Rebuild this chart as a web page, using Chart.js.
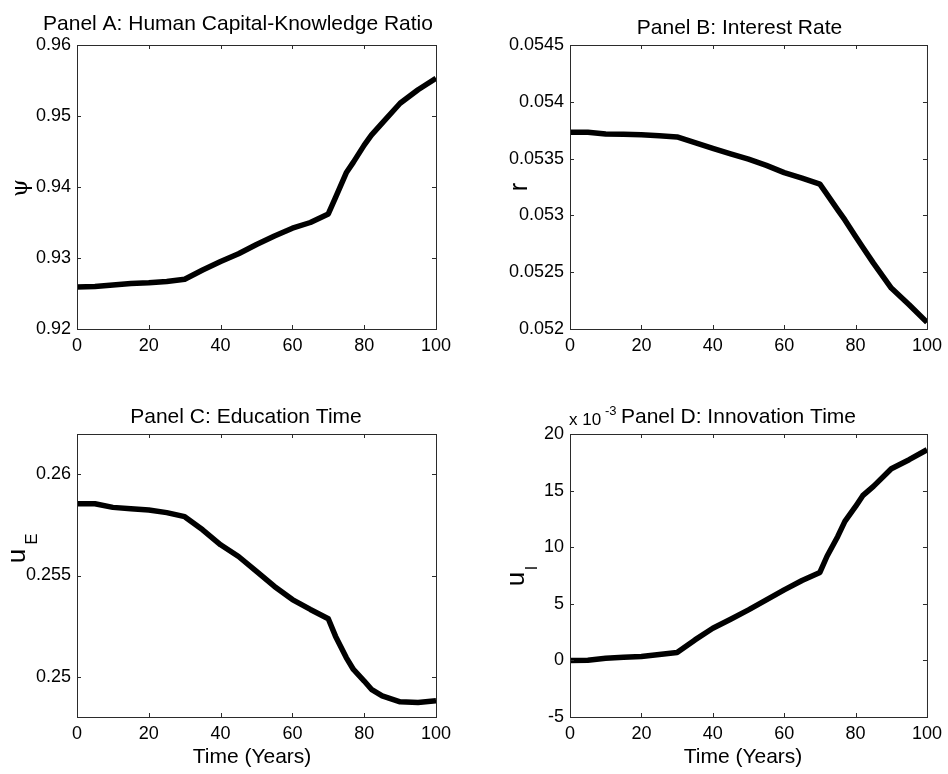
<!DOCTYPE html>
<html>
<head>
<meta charset="utf-8">
<title>Transition dynamics</title>
<script src="https://cdn.jsdelivr.net/npm/chart.js@4.4.1/dist/chart.umd.min.js"></script>
<style>
  html, body { margin: 0; padding: 0; background: #fff; }
  #fig { position: relative; width: 948px; height: 774px; overflow: hidden; background: #fff; }
  #fig canvas { position: absolute; }
</style>
</head>
<body>
<div id="fig">
  <canvas id="panelA" width="474" height="387" style="left:0;top:0"></canvas>
  <canvas id="panelB" width="474" height="387" style="left:474px;top:0"></canvas>
  <canvas id="panelC" width="474" height="387" style="left:0;top:387px"></canvas>
  <canvas id="panelD" width="474" height="387" style="left:474px;top:387px"></canvas>
</div>
<script>
// Time grid (years) shared by all four series
const years = [0, 5, 10, 15, 20, 25, 30, 35, 40, 45, 50, 55, 60, 65, 70, 72, 75, 77, 80, 82, 85, 90, 95, 100];

// Panel A: human capital-knowledge ratio (psi)
const psi = [0.9259, 0.9260, 0.9262, 0.9264, 0.9265, 0.9267, 0.9270, 0.9283, 0.9295, 0.9306, 0.9319, 0.9331,
             0.9342, 0.9350, 0.9362, 0.9385, 0.9420, 0.9435, 0.9459, 0.9473, 0.9490, 0.9518, 0.9537, 0.9553];

// Panel B: interest rate r
const interestRate = [0.053732, 0.053732, 0.053717, 0.053715, 0.053710, 0.053702, 0.053691, 0.053641,
                      0.053591, 0.053542, 0.053495, 0.053440, 0.053377, 0.053328, 0.053275, 0.053185,
                      0.053049, 0.052960, 0.052814, 0.052720, 0.052580, 0.052360, 0.052214, 0.052058];

// Panel C: education time u_E
const educationTime = [0.25855, 0.25855, 0.25837, 0.25830, 0.25824, 0.25811, 0.25791, 0.25726, 0.25652,
                       0.25594, 0.25520, 0.25446, 0.25381, 0.25332, 0.25286, 0.25200, 0.25094, 0.25035,
                       0.24978, 0.24937, 0.24905, 0.24875, 0.24872, 0.24880];

// Panel D: innovation time u_I, in units of 10^-3
const innovationTime = [0.00, 0.02, 0.19, 0.27, 0.34, 0.52, 0.69, 1.81, 2.84, 3.64, 4.46, 5.35,
                        6.23, 7.06, 7.77, 9.20, 10.95, 12.28, 13.60, 14.55, 15.37, 16.93, 17.73, 18.61];

// Tick values and labels
const xTicks = [0, 20, 40, 60, 80, 100];
const xTickLabels = ['0', '20', '40', '60', '80', '100'];
const psiTicks = [0.92, 0.93, 0.94, 0.95, 0.96];
const psiTickLabels = ['0.92', '0.93', '0.94', '0.95', '0.96'];
const rateTicks = [0.052, 0.0525, 0.053, 0.0535, 0.054, 0.0545];
const rateTickLabels = ['0.052', '0.0525', '0.053', '0.0535', '0.054', '0.0545'];
const eduTicks = [0.25, 0.255, 0.26];
const eduTickLabels = ['0.25', '0.255', '0.26'];
const innovTicks = [-5, 0, 5, 10, 15, 20];
const innovTickLabels = ['-5', '0', '5', '10', '15', '20'];

// Panel titles and axis labels
const titles = ['Panel A: Human Capital-Knowledge Ratio', 'Panel B: Interest Rate',
                'Panel C: Education Time', 'Panel D: Innovation Time'];
const xAxisLabel = 'Time (Years)';
const exponentLabel = ['x 10', '-3'];

const FONT = '"Liberation Sans", Arial, Helvetica, sans-serif';
const CW = 474, CH = 387;

// Draws the axes box with inward tick marks, then the titles and axis labels
const axesDecor = {
  id: 'axesDecor',
  afterDatasetsDraw(chart, args, opts) {
    const { ctx, chartArea: a, scales } = chart;
    ctx.save();
    ctx.strokeStyle = '#2b2b2b';
    ctx.lineWidth = 1;
    ctx.strokeRect(a.left + 0.5, a.top + 0.5, a.right - a.left, a.bottom - a.top);
    const tl = 4;
    ctx.beginPath();
    for (const v of opts.xTicks) {
      const px = Math.round(scales.x.getPixelForValue(v)) + 0.5;
      ctx.moveTo(px, a.bottom); ctx.lineTo(px, a.bottom - tl);
      ctx.moveTo(px, a.top); ctx.lineTo(px, a.top + tl);
    }
    for (const v of opts.yTicks) {
      const py = Math.round(scales.y.getPixelForValue(v)) + 0.5;
      ctx.moveTo(a.left, py); ctx.lineTo(a.left + tl, py);
      ctx.moveTo(a.right, py); ctx.lineTo(a.right - tl, py);
    }
    ctx.stroke();

    ctx.fillStyle = '#000';
    for (const it of opts.texts) {
      ctx.save();
      ctx.font = (it.style || '') + ' ' + it.size + 'px ' + (it.family || FONT);
      ctx.textAlign = it.align || 'center';
      ctx.textBaseline = it.baseline || 'alphabetic';
      ctx.translate(it.x, it.y);
      if (it.rot) ctx.rotate(-Math.PI / 2);
      ctx.fillText(it.t, 0, 0);
      ctx.restore();
    }
    ctx.restore();
  }
};

function makePanel(id, values, yMin, yMax, yTicks, yTickLabels, area, texts) {
  const points = years.map((x, i) => ({ x: x, y: values[i] }));
  const tickFont = { family: FONT, size: 18 };
  return new Chart(document.getElementById(id), {
    type: 'line',
    data: {
      datasets: [{
        data: points,
        borderColor: '#000',
        borderWidth: 5.5,
        borderJoinStyle: 'round',
        borderCapStyle: 'butt',
        pointRadius: 0,
        tension: 0,
        fill: false
      }]
    },
    options: {
      responsive: false,
      devicePixelRatio: 1,
      animation: false,
      events: [],
      layout: { padding: { left: 0, top: area.top, right: CW - area.right, bottom: 0 } },
      plugins: {
        legend: { display: false },
        tooltip: { enabled: false },
        title: { display: false },
        axesDecor: { xTicks: xTicks, yTicks: yTicks, texts: texts }
      },
      scales: {
        x: {
          type: 'linear', min: 0, max: 100, bounds: 'data',
          afterBuildTicks: s => { s.ticks = xTicks.map(v => ({ value: v })); },
          afterFit: s => { s.height = CH - area.bottom; },
          grid: { display: false, drawTicks: false },
          border: { display: false },
          ticks: { autoSkip: false, maxRotation: 0, padding: 6, color: '#000', font: tickFont,
                   callback: (v, i) => xTickLabels[i] }
        },
        y: {
          type: 'linear', min: yMin, max: yMax, bounds: 'data',
          afterBuildTicks: s => { s.ticks = yTicks.map(v => ({ value: v })); },
          afterFit: s => { s.width = area.left; },
          grid: { display: false, drawTicks: false },
          border: { display: false },
          ticks: { autoSkip: false, padding: 6, color: '#000', font: tickFont,
                   callback: (v, i) => yTickLabels[i] }
        }
      }
    },
    plugins: [axesDecor]
  });
}

makePanel('panelA', psi, 0.92, 0.96, psiTicks, psiTickLabels,
  { left: 77, right: 436, top: 45, bottom: 329 },
  [
    { t: titles[0], x: 238, y: 30, size: 21 },
    { t: '\u03C8', x: 27, y: 188, size: 23, rot: true, family: '"DejaVu Serif", serif' }
  ]);

makePanel('panelB', interestRate, 0.052, 0.0545, rateTicks, rateTickLabels,
  { left: 96, right: 454, top: 45, bottom: 329 },
  [
    { t: titles[1], x: 265.5, y: 34, size: 21 },
    { t: 'r', x: 53, y: 187, size: 25, rot: true }
  ]);

makePanel('panelC', educationTime, 0.248, 0.262, eduTicks, eduTickLabels,
  { left: 77, right: 436, top: 47, bottom: 330 },
  [
    { t: titles[2], x: 246, y: 36, size: 21 },
    { t: xAxisLabel, x: 252, y: 376, size: 21 },
    { t: 'u', x: 25, y: 169, size: 26, rot: true },
    { t: 'E', x: 37, y: 152, size: 17, rot: true }
  ]);

makePanel('panelD', innovationTime, -5, 20, innovTicks, innovTickLabels,
  { left: 96, right: 454, top: 47, bottom: 330 },
  [
    { t: titles[3], x: 264.5, y: 36, size: 21 },
    { t: xAxisLabel, x: 269, y: 376, size: 21 },
    { t: exponentLabel[0], x: 95, y: 38, size: 17, align: 'left' },
    { t: exponentLabel[1], x: 131, y: 28, size: 13, align: 'left' },
    { t: 'u', x: 50, y: 192, size: 26, rot: true },
    { t: 'I', x: 63, y: 181, size: 16, rot: true }
  ]);
</script>
</body>
</html>
